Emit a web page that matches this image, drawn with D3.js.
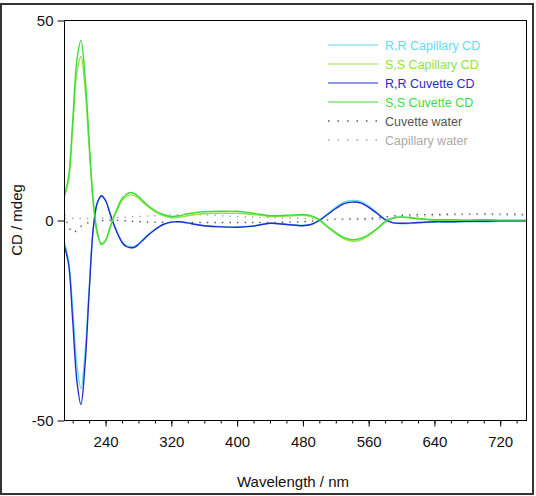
<!DOCTYPE html>
<html>
<head>
<meta charset="utf-8">
<script src="https://cdn.jsdelivr.net/npm/d3@7"></script>
<style>
  body { margin: 0; background: #fff; }
  svg { font-family: "Liberation Sans", Arial, sans-serif; }
</style>
</head>
<body>
<svg id="chart" width="536" height="496"></svg>
<script>
// wavelengths (nm) shared by the four CD traces
var wl = [190,195,200,205,210,215,220,225,230,235,240,245,250,255,260,265,270,275,280,285,290,300,310,320,330,340,350,360,380,400,420,440,460,480,490,500,510,520,530,540,550,560,570,580,590,600,620,640,660,680,700,720,735,752];

var rrCapillary = [-5.4,-10,-22,-36,-42,-33,-17,-2,4.3,6,4.9,2,-0.9,-3.3,-5.2,-6.2,-6.5,-6.4,-5.8,-4.8,-3.8,-2.2,-1,-0.4,-0.3,-0.6,-1,-1.3,-1.5,-1.6,-1.3,-0.7,-0.9,-1.2,-0.9,0.1,1.7,3.3,4.6,5,4.8,3.6,2,0.3,-0.6,-0.8,-0.6,-0.4,-0.4,-0.3,-0.3,-0.2,-0.2,-0.2];
var ssCapillary = [6,10,23,37,41,33,18,4,-3.5,-5.8,-5,-2.2,0.8,3,5,6,6.4,6.2,5.6,4.6,3.7,2.2,1.2,0.7,0.8,1.2,1.5,1.7,1.8,1.8,1.5,1,1.1,1.3,1,0,-1.7,-3.3,-4.6,-5.2,-4.9,-3.8,-2.2,-0.5,0.6,0.8,0.4,0.1,0.1,0,0.1,0,0,0];
var rrCuvette = [-6.5,-11,-25,-40,-46,-36,-18,-2,4.5,6.2,5,2,-1,-3.5,-5.5,-6.5,-6.8,-6.7,-6,-5,-4,-2.3,-1,-0.4,-0.3,-0.6,-1,-1.3,-1.6,-1.7,-1.4,-0.7,-1,-1.3,-1,0,1.5,3,4.2,4.6,4.4,3.3,1.8,0.2,-0.6,-0.7,-0.5,-0.3,-0.3,-0.2,-0.2,-0.1,-0.1,-0.1];
var ssCuvette = [6.5,11,25,40,45,36,20,5,-3,-6,-5,-2,1,3.5,5.5,6.5,7,6.7,6,5,4,2.5,1.5,1,1.2,1.7,2,2.2,2.3,2.3,1.8,1.2,1.3,1.5,1.2,0.2,-1.5,-3,-4.3,-4.8,-4.5,-3.5,-2,-0.3,0.7,0.9,0.5,0.2,0.2,0.1,0.2,0.1,0.1,0.1];

// water baselines
var wlWater = [190,195,200,205,210,220,240,260,280,300,340,400,440,480,500,520,560,600,640,680,720,752];
var cuvetteWater = [1.5,-1.5,-3,-2.5,-1.5,-0.5,0,0,-0.3,-0.4,-0.5,-0.5,-0.5,-0.3,0,0.3,0.5,1.3,1.5,1.6,1.6,1.5];
var capillaryWater = [0.5,0.5,0.5,0.5,0.5,0.5,0.6,0.8,1,1.2,1.5,1,0.7,0.5,0.4,0.3,0.2,0.8,1.2,1.5,1.4,1.3];

var xMajor = [240,320,400,480,560,640,720];
var yTicks = [-50,0,50];

var series = [
    {name:"R,R Capillary CD", x:wl, y:rrCapillary, color:"#62dcf0", dash:null},
    {name:"S,S Capillary CD", x:wl, y:ssCapillary, color:"#90e43c", dash:null},
    {name:"R,R Cuvette CD", x:wl, y:rrCuvette, color:"#1f2dce", dash:null},
    {name:"S,S Cuvette CD", x:wl, y:ssCuvette, color:"#3cdc3c", dash:null},
    {name:"Cuvette water", x:wlWater, y:cuvetteWater, color:"#555", dash:"1.5,6"},
    {name:"Capillary water", x:wlWater, y:capillaryWater, color:"#aaa", dash:"1.5,6"}
];

var svg = d3.select("#chart");
var m = {l:64.5, t:20.5, r:526.5, b:420.5};

// outer frame
svg.append("rect").attr("x",1).attr("y",4).attr("width",532).attr("height",490)
    .attr("fill","none").attr("stroke","#333").attr("stroke-width",2);

var x = d3.scaleLinear().domain([190,752]).range([m.l,m.r]);
var y = d3.scaleLinear().domain([-50,50]).range([m.b,m.t]);

svg.append("defs").append("clipPath").attr("id","clip").append("rect")
    .attr("x",m.l).attr("y",m.t).attr("width",m.r-m.l).attr("height",m.b-m.t);

var line = d3.line().curve(d3.curveCatmullRom);
var g = svg.append("g").attr("clip-path","url(#clip)");
// water first, underneath
[4,5,0,1,2,3].forEach(function(i){
    var s = series[i];
    var pts = s.x.map(function(d,j){ return [x(d), y(s.y[j])]; });
    g.append("path").attr("d", line(pts))
        .attr("fill","none").attr("stroke",s.color)
        .attr("stroke-width",1.4)
        .attr("stroke-dasharray", s.dash);
});

// plot box
svg.append("rect").attr("x",m.l).attr("y",m.t).attr("width",m.r-m.l).attr("height",m.b-m.t)
    .attr("fill","none").attr("stroke","#000").attr("stroke-width",1);

// axes
var xAxisMinor = d3.axisBottom(x).tickValues(d3.range(200,752,20)).tickSize(3).tickFormat("");
var xAxis = d3.axisBottom(x).tickValues(xMajor).tickSize(6).tickPadding(10).tickFormat(function(d){ return String(d); });
var yAxis = d3.axisLeft(y).tickValues(yTicks).tickSize(7).tickPadding(4).tickFormat(function(d){ return String(d); });

function styleAxis(a){
    a.select(".domain").remove();
    a.selectAll("text").attr("font-size",15).attr("fill","#111")
        .attr("font-family","Liberation Sans, Arial, sans-serif");
}
svg.append("g").attr("transform","translate(0,"+m.b+")").call(xAxisMinor)
    .call(function(a){ a.select(".domain").remove(); });
svg.append("g").attr("transform","translate(0,"+m.b+")").call(xAxis).call(styleAxis);
svg.append("g").attr("transform","translate("+m.l+",0)").call(yAxis).call(styleAxis);

svg.append("text").attr("x",293).attr("y",487).attr("text-anchor","middle")
    .attr("font-size",15).attr("fill","#111").text("Wavelength / nm");
svg.append("text").attr("transform","translate(22,220) rotate(-90)").attr("text-anchor","middle")
    .attr("font-size",15).attr("fill","#111").text("CD / mdeg");

// legend
var lg = svg.append("g").attr("transform","translate(328,45)");
series.forEach(function(s,i){
    var row = lg.append("g").attr("transform","translate(0,"+(i*19)+")");
    row.append("line").attr("x1",0).attr("x2",50).attr("y1",0).attr("y2",0)
        .attr("stroke",s.color).attr("stroke-width",s.dash ? 1.4 : 1.2)
        .attr("stroke-dasharray",s.dash ? "1.5,8" : null);
    row.append("text").attr("x",57).attr("y",4.5).attr("font-size",12.5)
        .attr("fill",s.color).text(s.name);
});
</script>
</body>
</html>
